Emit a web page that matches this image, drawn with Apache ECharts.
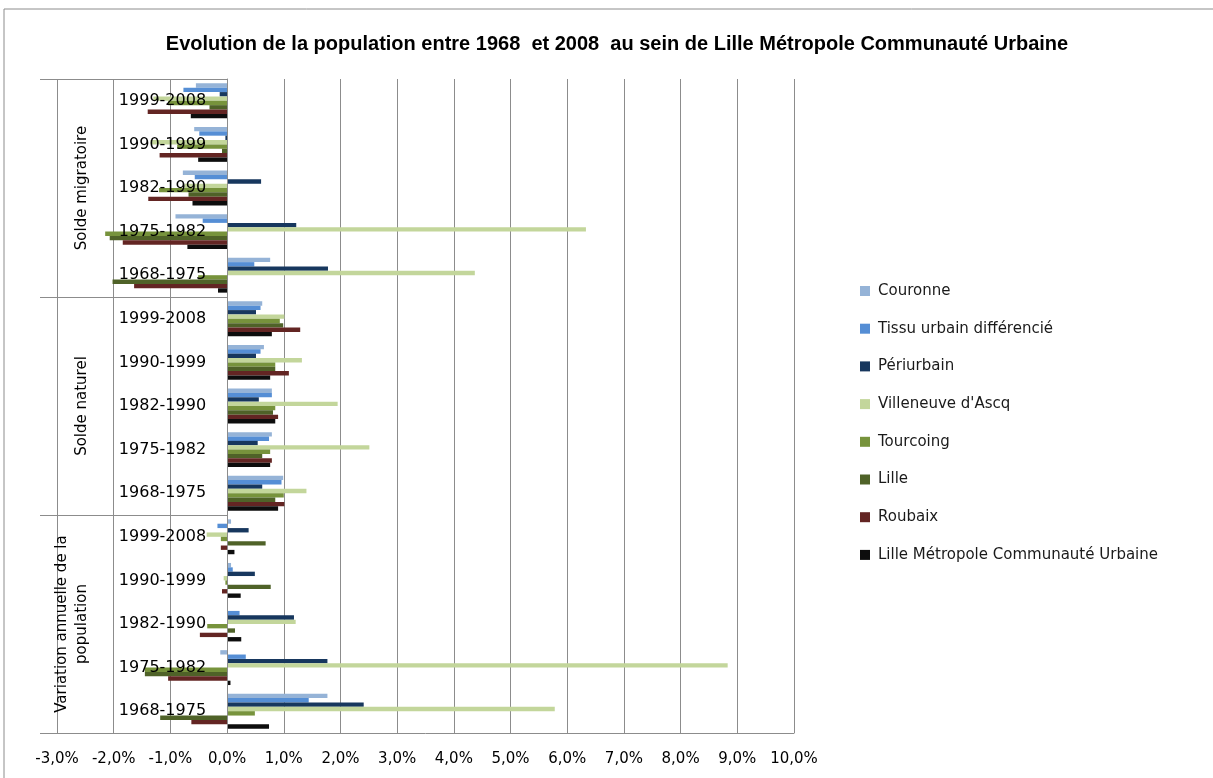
<!DOCTYPE html>
<html>
<head>
<meta charset="utf-8">
<script src="https://cdn.jsdelivr.net/npm/echarts@6/dist/echarts.min.js"></script>
<style>
    html, body { margin: 0; padding: 0; background: #fff; }
    #chart { width: 1213px; height: 778px; }
</style>
</head>
<body>
<div id="chart"></div>
<script>
// categories, bottom to top (same order as the chart)
const periods = ['1968-1975', '1975-1982', '1982-1990', '1990-1999', '1999-2008'];
const groups = ['Variation annuelle de la\npopulation', 'Solde naturel', 'Solde migratoire'];
const xTicks = [-3, -2, -1, 0, 1, 2, 3, 4, 5, 6, 7, 8, 9, 10];

// values in %, per group: variation (5), naturel (5), migratoire (5)
const couronne = [1.77, -0.12, 0.01, 0.07, 0.07, 0.99, 0.79, 0.79, 0.65, 0.62, 0.76, -0.91, -0.78, -0.58, -0.55];
const tissu = [1.44, 0.33, 0.22, 0.10, -0.17, 0.96, 0.74, 0.79, 0.59, 0.59, 0.48, -0.43, -0.57, -0.49, -0.77];
const periurbain = [2.41, 1.77, 1.18, 0.49, 0.38, 0.62, 0.54, 0.56, 0.51, 0.51, 1.78, 1.22, 0.60, -0.03, -0.13];
const villeneuve = [5.78, 8.83, 1.21, -0.06, -0.36, 1.40, 2.51, 1.95, 1.32, 1.01, 4.37, 6.33, -0.75, -1.35, -1.30];
const tourcoing = [0.49, -1.45, -0.35, -0.03, -0.11, 1.00, 0.76, 0.85, 0.85, 0.93, -0.51, -2.15, -1.20, -0.88, -1.04];
const lille = [-1.18, -1.45, 0.14, 0.77, 0.68, 0.85, 0.62, 0.81, 0.85, 0.99, -2.02, -2.07, -0.68, -0.09, -0.31];
const roubaix = [-0.63, -1.04, -0.48, -0.09, -0.11, 1.01, 0.79, 0.90, 1.09, 1.29, -1.64, -1.84, -1.39, -1.19, -1.40];
const lmcu = [0.74, 0.06, 0.25, 0.24, 0.13, 0.90, 0.76, 0.85, 0.76, 0.79, -0.16, -0.70, -0.61, -0.51, -0.64];

const seriesList = [
    { name: 'Couronne', data: couronne, color: '#95B3D7' },
    { name: 'Tissu urbain différencié', data: tissu, color: '#558ED5' },
    { name: 'Périurbain', data: periurbain, color: '#17375E' },
    { name: "Villeneuve d'Ascq", data: villeneuve, color: '#C3D69B' },
    { name: 'Tourcoing', data: tourcoing, color: '#77933C' },
    { name: 'Lille', data: lille, color: '#4F6228' },
    { name: 'Roubaix', data: roubaix, color: '#632523' },
    { name: 'Lille Métropole Communauté Urbaine', data: lmcu, color: '#0D0D0D' }
];

const categories = [];
groups.forEach(g => periods.forEach(p => categories.push(g + '|' + p)));

const font = 'DejaVu Sans';
const gridColor = '#8c8c8c';
const gridLeft = 57, gridRight = 419;
const xMin = xTicks[0], xMax = xTicks[xTicks.length - 1];
// the period labels sit next to the 0 line, as in the Excel original
const zeroOffset = -(0 - xMin) / (xMax - xMin) * (1213 - gridLeft - gridRight);

const chart = echarts.init(document.getElementById('chart'));

const series = seriesList.map(s => ({
    name: s.name,
    type: 'bar',
    data: s.data,
    itemStyle: { color: s.color },
    barGap: '0%',
    barCategoryGap: '20%'
}));

let options = {
    animation: false,
    title: {
        text: 'Evolution de la population entre 1968  et 2008  au sein de Lille Métropole Communauté Urbaine',
        left: 612,
        textAlign: 'center',
        top: 29,
        textStyle: {
            fontFamily: 'Liberation Sans',
            fontWeight: 'bold',
            fontSize: 20,
            color: '#000'
        }
    },
    legend: {
        data: seriesList.map(s => s.name),
        orient: 'vertical',
        left: 855,
        top: 277,
        icon: 'rect',
        itemWidth: 10,
        itemHeight: 10,
        itemGap: 19.7,
        textStyle: {
            fontFamily: font,
            fontSize: 15,
            lineHeight: 18,
            color: '#1a1a1a',
            padding: [0, 0, 0, 3]
        }
    },
    grid: {
        left: gridLeft,
        right: gridRight,
        top: 79,
        bottom: 45,
        outerBoundsMode: 'none'
    },
    xAxis: {
        type: 'value',
        min: xMin,
        max: xMax,
        interval: 1,
        axisLine: { show: true, onZero: false, lineStyle: { color: gridColor } },
        axisTick: { show: false },
        splitLine: { lineStyle: { color: gridColor, width: 1 } },
        axisLabel: {
            margin: 19,
            fontFamily: font,
            fontSize: 15,
            color: '#000',
            formatter: v => v.toFixed(1).replace('.', ',') + '%'
        }
    },
    yAxis: [{
        type: 'category',
        data: categories,
        position: 'left',
        offset: zeroOffset,
        z: 5,
        axisLine: { show: true, onZero: false, lineStyle: { color: gridColor } },
        axisTick: { show: false },
        axisLabel: {
            interval: 0,
            margin: 21,
            fontFamily: font,
            fontSize: 16,
            color: '#000',
            formatter: v => v.split('|')[1]
        }
    }, {
        // group separators
        type: 'category',
        data: groups,
        position: 'left',
        offset: 17,
        axisLine: { show: false, onZero: false },
        axisTick: {
            show: true,
            inside: true,
            length: 187,
            interval: 0,
            lineStyle: { color: gridColor }
        },
        axisLabel: { show: false }
    }, {
        // group labels
        type: 'category',
        data: groups,
        position: 'left',
        offset: -55,
        axisLine: { show: false, onZero: false },
        axisTick: { show: false },
        axisLabel: {
            interval: 0,
            rotate: 90,
            margin: 20,
            fontFamily: font,
            fontSize: 15,
            lineHeight: 20,
            color: '#000'
        }
    }],
    graphic: [{
        type: 'rect',
        shape: { x: 4, y: 9, width: 1300, height: 900 },
        style: { fill: null, stroke: '#8c8c8c', lineWidth: 1 },
        silent: true
    }],
    series: series
};
chart.setOption(options);
</script>
</body>
</html>
